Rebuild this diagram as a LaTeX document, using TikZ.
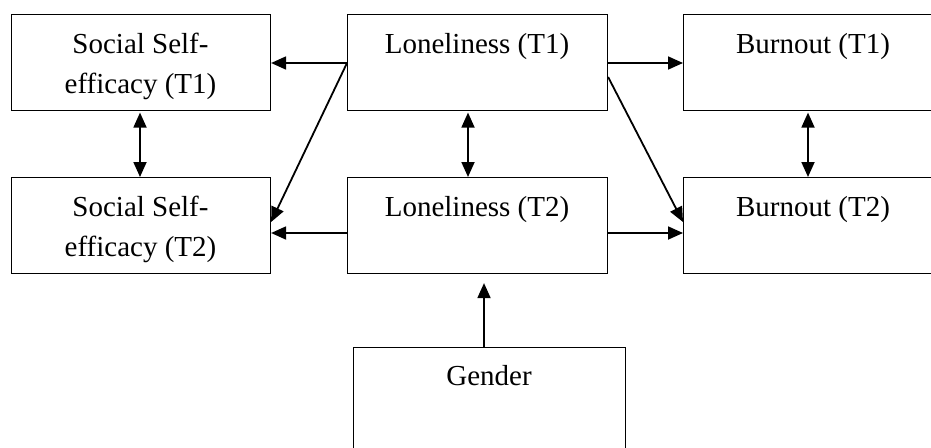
\documentclass[tikz,border=0pt]{standalone}
\usepackage{fontspec}
\setmainfont{Liberation Serif}
\usetikzlibrary{arrows.meta}
\begin{document}
\begin{tikzpicture}[x=1pt,y=-1pt,
  box/.style={draw, line width=1.1pt, inner sep=0pt, anchor=north west},
  lbl/.style={inner sep=0pt, anchor=base, align=center, font=\fontsize{29}{40}\selectfont},
  arr/.style={line width=1.8pt, -{Triangle[length=15pt,width=13pt]}},
  darr/.style={line width=1.8pt, {Triangle[length=15pt,width=13pt]}-{Triangle[length=15pt,width=13pt]}}]
\useasboundingbox (0,0) rectangle (931,447);
\clip (0,0) rectangle (931,447);
% boxes
\node[box, minimum width=259pt, minimum height=96pt] (sse1) at (11,14) {};
\node[box, minimum width=260pt, minimum height=96pt] (lon1) at (347,14) {};
\node[box, minimum width=260pt, minimum height=96pt] (bur1) at (683,14) {};
\node[box, minimum width=259pt, minimum height=96pt] (sse2) at (11,177) {};
\node[box, minimum width=260pt, minimum height=96pt] (lon2) at (347,177) {};
\node[box, minimum width=260pt, minimum height=96pt] (bur2) at (683,177) {};
\node[box, minimum width=272pt, minimum height=115pt] (gen) at (353,347) {};
% texts (base anchor = last line baseline)
\node[lbl] (tsse1) at (140.5,93) {Social Self-\\efficacy (T1)};
\node[lbl] (tlon1) at (477,53) {Loneliness (T1)};
\node[lbl] (tbur1) at (813,53) {Burnout (T1)};
\node[lbl] (tsse2) at (140.5,256) {Social Self-\\efficacy (T2)};
\node[lbl] (tlon2) at (477,216) {Loneliness (T2)};
\node[lbl] (tbur2) at (813,216) {Burnout (T2)};
\node[lbl] (tgen) at (489,385) {Gender};
% coordinates
\coordinate (l1w) at ([yshift=-49pt]lon1.north west);
\coordinate (l1e) at ([yshift=-49pt]lon1.north east);
\coordinate (l1e2) at ([yshift=-63pt]lon1.north east);
\coordinate (l2w) at ([yshift=-56pt]lon2.north west);
\coordinate (l2e) at ([yshift=-56pt]lon2.north east);
% horizontal arrows
\draw[arr] (l1w) -- (l1w -| sse1.east);
\draw[arr] (l1e) -- (l1e -| bur1.west);
\draw[arr] (l2w) -- (l2w -| sse2.east);
\draw[arr] (l2e) -- (l2e -| bur2.west);
% diagonals
\draw[arr] (l1w) -- ([yshift=-45pt]sse2.north east);
\draw[arr] (l1e2) -- ([yshift=-45pt]bur2.north west);
% verticals
\draw[darr] ([yshift=-1.5pt]sse1.south -| 140,0) -- (sse2.north -| 140,0);
\draw[darr] ([yshift=-1.5pt]lon1.south -| 468,0) -- (lon2.north -| 468,0);
\draw[darr] ([yshift=-1.5pt]bur1.south -| 808,0) -- (bur2.north -| 808,0);
% gender
\draw[arr] (gen.north -| 484,0) -- ([yshift=-9pt]lon2.south -| 484,0);
\end{tikzpicture}
\end{document}
